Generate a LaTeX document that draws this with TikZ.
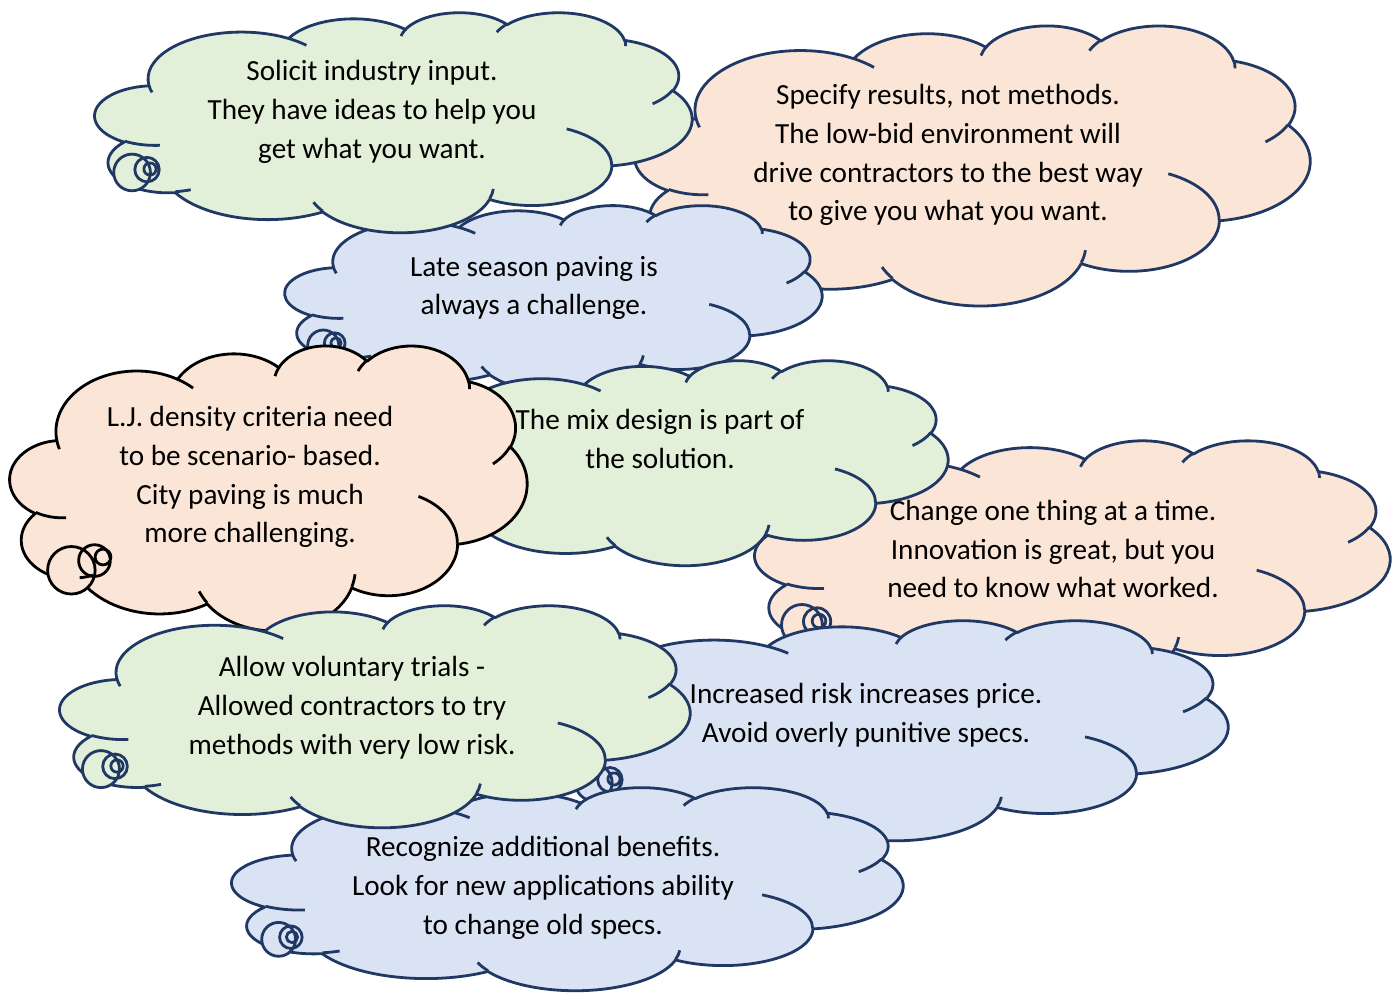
\documentclass[tikz,border=0pt]{standalone}
\usepackage{fontspec}
\setmainfont{Carlito}
\definecolor{navy}{HTML}{203864}
\definecolor{cgreen}{HTML}{E2F0D9}
\definecolor{cpeach}{HTML}{FBE5D6}
\definecolor{cblue}{HTML}{DAE3F3}
\tikzset{
  cloudline/.style={line width=1.4pt, line join=round},
  txt/.style={align=center, inner sep=0pt, text=black,
    font=\fontsize{14.6}{19.4}\selectfont}
}
% puff angles are given as seen on the ellipse; turn them into
% the parametric angles that TikZ arcs take
\newcommand\vangle[3]{%
  \pgfmathparse{atan2((#2)*sin(#1),(#3)*cos(#1))}%
  \pgfmathparse{(#1)+mod(\pgfmathresult-(#1)+540,360)-180}}
% name, start, sweep, x radius, y radius
\newcommand\setarc[5]{%
  \vangle{#2}{#4}{#5}\expandafter\xdef\csname cs#1\endcsname{\pgfmathresult}%
  \vangle{(#2)+(#3)}{#4}{#5}\expandafter\xdef\csname ce#1\endcsname{\pgfmathresult}}
% outline puffs
\setarc{ba}{-190.48748}{123.78053}{6.753}{9.190}
\setarc{bb}{-144.10238}{89.94523}{5.333}{7.267}
\setarc{bc}{-145.80792}{99.72302}{4.365}{5.945}
\setarc{bd}{-130.98607}{117.24173}{4.857}{6.595}
\setarc{be}{-78.70888}{109.02692}{5.333}{7.273}
\setarc{bf}{-46.26725}{130.269}{6.775}{9.220}
\setarc{bg}{0.62502}{114.03333}{5.785}{7.867}
\setarc{bh}{22.4516}{115.17255}{6.752}{9.215}
\setarc{bi}{66.24263}{75.71102}{7.720}{10.543}
\setarc{bj}{-274.94208}{146.73557}{4.360}{5.918}
\setarc{bk}{-246.8285}{152.51885}{4.345}{5.945}
% inner strokes
\setarc{ia}{86.742}{26.4295}{4.345}{5.945}
\setarc{ib}{73.61047}{11.44747}{4.360}{5.918}
\setarc{ic}{137.62415}{14.0811}{6.752}{9.215}
\setarc{id}{6.45327}{15.99835}{6.752}{9.215}
\setarc{ie}{-70.29235}{70.9174}{5.785}{7.867}
\setarc{if}{30.31803}{27.7515}{5.333}{7.273}
\setarc{ig}{-13.74433}{14.8589}{4.857}{6.595}
\setarc{ih}{-149.18145}{18.19537}{4.857}{6.595}
\setarc{ii}{-163.49427}{17.8394}{4.365}{5.945}
\setarc{ij}{-66.70695}{12.31935}{6.753}{9.190}
\setarc{ik}{157.65435}{11.85817}{6.753}{9.190}
% cloud body in a 43.2 x 43.2 box: x0, y0, width, height, fill, line colour
\newcommand\cloudbody[6]{%
  \pgfmathsetmacro\cldux{#3/86.4}%
  \pgfmathsetmacro\clduy{#4/86.4}%
  \begin{scope}[shift={(#1,#2)}, x=\cldux pt, y=-\clduy pt]
    \path[cloudline, fill=#5, draw=#6] (3.900,14.370)
      arc[start angle=\csba, end angle=\ceba, x radius=6.753, y radius=9.190]
      arc[start angle=\csbb, end angle=\cebb, x radius=5.333, y radius=7.267]
      arc[start angle=\csbc, end angle=\cebc, x radius=4.365, y radius=5.945]
      arc[start angle=\csbd, end angle=\cebd, x radius=4.857, y radius=6.595]
      arc[start angle=\csbe, end angle=\cebe, x radius=5.333, y radius=7.273]
      arc[start angle=\csbf, end angle=\cebf, x radius=6.775, y radius=9.220]
      arc[start angle=\csbg, end angle=\cebg, x radius=5.785, y radius=7.867]
      arc[start angle=\csbh, end angle=\cebh, x radius=6.752, y radius=9.215]
      arc[start angle=\csbi, end angle=\cebi, x radius=7.720, y radius=10.543]
      arc[start angle=\csbj, end angle=\cebj, x radius=4.360, y radius=5.918]
      arc[start angle=\csbk, end angle=\cebk, x radius=4.345, y radius=5.945]
      -- cycle;
  \end{scope}}
% the short inner strokes between the puffs
\newcommand\cloudarcs[5]{%
  \pgfmathsetmacro\cldux{#3/86.4}%
  \pgfmathsetmacro\clduy{#4/86.4}%
  \begin{scope}[shift={(#1,#2)}, x=\cldux pt, y=-\clduy pt]
    \draw[cloudline, draw=#5]
      (4.693,26.177) arc[start angle=\csia, end angle=\ceia, x radius=4.345, y radius=5.945]
      (6.928,34.899) arc[start angle=\csib, end angle=\ceib, x radius=4.360, y radius=5.918]
      (16.478,39.090) arc[start angle=\csic, end angle=\ceic, x radius=6.752, y radius=9.215]
      (28.827,34.751) arc[start angle=\csid, end angle=\ceid, x radius=6.752, y radius=9.215]
      (34.129,22.954) arc[start angle=\csie, end angle=\ceie, x radius=5.785, y radius=7.867]
      (41.798,15.354) arc[start angle=\csif, end angle=\ceif, x radius=5.333, y radius=7.273]
      (38.324,5.426) arc[start angle=\csig, end angle=\ceig, x radius=4.857, y radius=6.595]
      (29.078,3.952) arc[start angle=\csih, end angle=\ceih, x radius=4.857, y radius=6.595]
      (22.141,4.720) arc[start angle=\csii, end angle=\ceii, x radius=4.365, y radius=5.945]
      (14.000,5.192) arc[start angle=\csij, end angle=\ceij, x radius=6.753, y radius=9.190]
      (4.127,15.789) arc[start angle=\csik, end angle=\ceik, x radius=6.753, y radius=9.190];
  \end{scope}}
% three thought bubbles: x0, y0, width, height, tail x, tail y, fill, line colour
\newcommand\cloudtail[8]{%
  \pgfmathsetmacro\tcx{#1+#3/2}%
  \pgfmathsetmacro\tcy{#2+#4/2}%
  \pgfmathsetmacro\tth{atan2(#6-\tcy,#5-\tcx)}%
  \pgfmathsetmacro\tph{atan2(#3/2*sin(\tth),#4/2*cos(\tth))}%
  \pgfmathsetmacro\tex{\tcx+#3/2*cos(\tph)}%
  \pgfmathsetmacro\tey{\tcy+#4/2*sin(\tph)}%
  \pgfmathsetmacro\tgl{veclen(\tex-#5,\tey-#6)}%
  \pgfmathsetmacro\tux{(\tex-#5)/\tgl}%
  \pgfmathsetmacro\tuy{(\tey-#6)/\tgl}%
  \pgfmathsetmacro\tgk{(\tgl-0.305556*#4)/3}%
  \pgfmathsetmacro\tgm{\tgk+#4/12}%
  \pgfmathsetmacro\tgn{0.222222*#4+2*\tgk}%
  \fill[#7] (#5+\tgn*\tux,#6+\tgn*\tuy) circle[radius=#4/12]
            (#5+\tgm*\tux,#6+\tgm*\tuy) circle[radius=#4/18]
            (#5,#6) circle[radius=#4/36];
  \draw[cloudline, draw=#8] (#5+\tgn*\tux,#6+\tgn*\tuy) circle[radius=#4/12]
            (#5+\tgm*\tux,#6+\tgm*\tuy) circle[radius=#4/18]
            (#5,#6) circle[radius=#4/36];}
\begin{document}
\frenchspacing
\begin{tikzpicture}[x=0.5pt, y=-0.5pt]
\useasboundingbox (0,0) rectangle (1398,994);
\fill[white] (0,0) rectangle (1398,994);

% results, not methods
\cloudbody{635}{25}{675}{280}{cpeach}{navy}
\cloudarcs{635}{25}{675}{280}{navy}
\node[txt] (specify) at (948,155) {Specify results, not methods.\\The low-bid environment will\\drive contractors to the best way\\to give you what you want.};

% late season paving
\cloudbody{285}{205}{537}{187}{cblue}{navy}
\cloudtail{285}{205}{537}{187}{336}{343}{cblue}{navy}
\cloudarcs{285}{205}{537}{187}{navy}
\node[txt] (late) at (534,288) {Late season paving is\\always a challenge.};

% industry input
\cloudbody{95}{12}{597}{220}{cgreen}{navy}
\cloudtail{95}{12}{597}{220}{150}{169}{cgreen}{navy}
\cloudarcs{95}{12}{597}{220}{navy}
\node[txt] (solicit) at (372,112) {Solicit industry input.\\They have ideas to help you\\get what you want.};

% one change at a time
\cloudbody{755}{440}{635}{245}{cpeach}{navy}
\cloudtail{755}{440}{635}{245}{819}{621}{cpeach}{navy}
\cloudarcs{755}{440}{635}{245}{navy}
\node[txt] (change) at (1053,549) {Change one thing at a time.\\Innovation is great, but you\\need to know what worked.};

% mix design
\cloudbody{410}{360}{538}{205}{cgreen}{navy}
\cloudarcs{410}{360}{538}{205}{navy}
\node[txt] (mix) at (660,439) {The mix design is part of\\the solution.};

% density criteria
\cloudbody{10}{345}{517}{285}{cpeach}{black}
\cloudtail{10}{345}{517}{285}{103}{557}{cpeach}{black}
\cloudarcs{10}{345}{517}{285}{black}
\node[txt] (density) at (250,477) {L.J. density criteria need\\to be scenario- based.\\City paving is much\\more challenging.};

% risk and price
\cloudbody{547}{620}{681}{220}{cblue}{navy}
\cloudtail{547}{620}{681}{220}{614}{779}{cblue}{navy}
\cloudarcs{547}{620}{681}{220}{navy}
\node[txt] (risk) at (866,715) {Increased risk increases price.\\Avoid overly punitive specs.};

% additional benefits
\cloudbody{232}{787}{671}{203}{cblue}{navy}
\cloudtail{232}{787}{671}{203}{292}{937}{cblue}{navy}
\cloudarcs{232}{787}{671}{203}{navy}
\node[txt] (benefits) at (543,888) {Recognize additional benefits.\\Look for new applications ability\\to change old specs.};

% voluntary trials
\cloudbody{60}{605}{630}{222}{cgreen}{navy}
\cloudtail{60}{605}{630}{222}{117}{766}{cgreen}{navy}
\cloudarcs{60}{605}{630}{222}{navy}
\node[txt] (trials) at (352,708) {Allow voluntary trials -\\Allowed contractors to try\\methods with very low risk.};
\end{tikzpicture}
\end{document}
